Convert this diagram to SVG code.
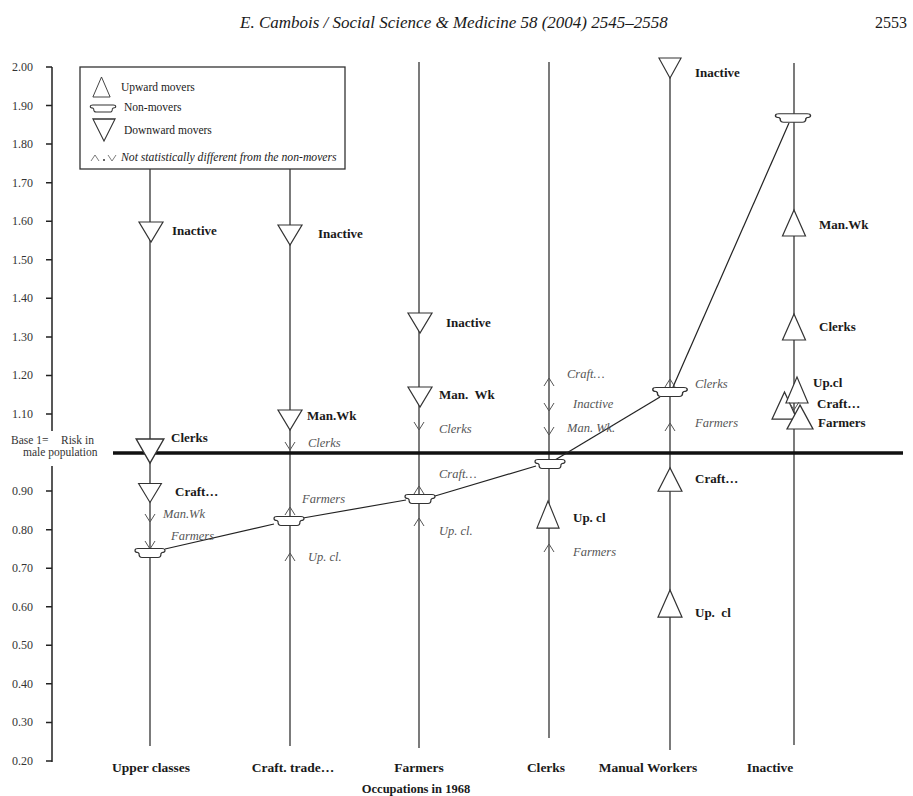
<svg xmlns="http://www.w3.org/2000/svg" width="913" height="796" viewBox="0 0 913 796">
<style>
text{font-family:"Liberation Serif","Times New Roman",serif;fill:#1a1a1a}
.hdr{font-style:italic;font-size:17px}
.pg{font-size:16px}
.tick{font-size:12px;fill:#333;text-anchor:end}
.base{font-size:11.5px;fill:#333}
.b{font-weight:bold;font-size:13px}
.i{font-style:italic;font-size:12.5px;fill:#555}
.leg{font-size:11.5px}
.legi{font-style:italic;font-size:11.7px}
.xl{font-weight:bold;font-size:13.5px;text-anchor:middle}
.occ{font-weight:bold;font-size:12.5px;text-anchor:middle}
.col{stroke:#333;stroke-width:1.3;fill:none}
.ax{stroke:#222;stroke-width:1.5;fill:none}
.baseline{stroke:#111;stroke-width:3.5}
.shape{fill:#fff;stroke:#333;stroke-width:1.2}
.sa{fill:none;stroke:#555;stroke-width:1}
.conn{fill:none;stroke:#222;stroke-width:1.2}
.box{fill:#fff;stroke:#333;stroke-width:1.3}
</style>
<defs>
<path id="up" d="M0,-13 L11.5,13 L-11.5,13 Z"/>
<path id="dn" d="M-12,-10 L12,-10 L0,10 Z"/>
<path id="nm" d="M-15,-2.5 Q-15,-4.5 -12,-4.5 H12 Q15,-4.5 15,-2.5 Q15,-0.5 12,-0.5 L11,0.5 Q11,4.5 8,4.5 H-8 Q-11,4.5 -11,0.5 L-12,-0.5 Q-15,-0.5 -15,-2.5 Z"/>
<path id="su" d="M-5,4 L0,-4 L5,4"/>
<path id="sd" d="M-5,-4 L0,4 L5,-4"/>
</defs>

<rect width="913" height="796" fill="#fff"/>

<g id="header">
<text class="hdr" x="240" y="28">E. Cambois / Social Science &amp; Medicine 58 (2004) 2545–2558</text>
<text class="pg" x="907" y="28" text-anchor="end">2553</text>
</g>

<g id="y-axis">
<path class="ax" d="M52,67 V431 M52,466 V762"/>
<path class="ax" d="M46,67 H52 M46,105.5 H52 M46,144 H52 M46,182.7 H52 M46,221.2 H52 M46,259.8 H52 M46,298.3 H52 M46,336.9 H52 M46,375.4 H52 M46,414 H52 M46,491.1 H52 M46,529.7 H52 M46,568.2 H52 M46,606.8 H52 M46,645.3 H52 M46,683.8 H52 M46,722.4 H52 M46,761 H52"/>
<text class="tick" x="33" y="71">2.00</text>
<text class="tick" x="33" y="109.5">1.90</text>
<text class="tick" x="33" y="148">1.80</text>
<text class="tick" x="33" y="186.7">1.70</text>
<text class="tick" x="33" y="225.2">1.60</text>
<text class="tick" x="33" y="263.8">1.50</text>
<text class="tick" x="33" y="302.3">1.40</text>
<text class="tick" x="33" y="340.9">1.30</text>
<text class="tick" x="33" y="379.4">1.20</text>
<text class="tick" x="33" y="418">1.10</text>
<text class="tick" x="33" y="495.1">0.90</text>
<text class="tick" x="33" y="533.7">0.80</text>
<text class="tick" x="33" y="572.2">0.70</text>
<text class="tick" x="33" y="610.8">0.60</text>
<text class="tick" x="33" y="649.3">0.50</text>
<text class="tick" x="33" y="687.8">0.40</text>
<text class="tick" x="33" y="726.4">0.30</text>
<text class="tick" x="33" y="765">0.20</text>
<text class="base" x="11" y="444">Base 1=</text>
<text class="base" x="61" y="444">Risk in</text>
<text class="base" x="23" y="456">male population</text>
</g>

<g id="columns">
<path class="col" d="M150,169 V746"/>
<path class="col" d="M290,169 V746"/>
<path class="col" d="M419,62 V748"/>
<path class="col" d="M549,62 V738"/>
<path class="col" d="M670,62 V750"/>
<path class="col" d="M794,63 V745"/>
</g>

<line id="base-line" class="baseline" x1="113" y1="453" x2="903" y2="453"/>

<g id="connectors">
<path class="conn" d="M165,549 L274,524"/>
<path class="conn" d="M303,518 L406,500"/>
<path class="conn" d="M435,496 L536,466"/>
<path class="conn" d="M555,460 L660,397"/>
<path class="conn" d="M673,387 L789,123"/>
</g>

<g id="legend">
<rect class="box" x="80" y="67" width="265" height="102"/>
<use href="#up" class="shape" transform="translate(101.5,87) scale(0.75,0.77)"/>
<text class="leg" x="121" y="91">Upward movers</text>
<use href="#nm" class="shape" transform="translate(103,108.5) scale(0.85,0.8)"/>
<text class="leg" x="124" y="111">Non-movers</text>
<use href="#dn" class="shape" transform="translate(104,130) scale(0.92,1.1)"/>
<text class="leg" x="124" y="134">Downward movers</text>
<use href="#su" class="sa" transform="translate(95,158) scale(0.8,0.75)"/>
<circle cx="104" cy="160" r="1" fill="#333"/>
<use href="#sd" class="sa" transform="translate(112,158) scale(0.8,0.75)"/>
<text class="legi" x="121" y="161">Not statistically different from the non-movers</text>
</g>

<g id="upper-classes">
<g id="uc-inactive"><use href="#dn" class="shape" x="151" y="232"/><text class="b" x="172" y="235">Inactive</text></g>
<g id="uc-clerks"><use href="#dn" class="shape" transform="translate(150,451) scale(1.15,1.2)"/><text class="b" x="171" y="442">Clerks</text></g>
<g id="uc-craft"><use href="#dn" class="shape" transform="translate(150,493) scale(0.95)"/><text class="b" x="175" y="496">Craft…</text></g>
<g id="uc-manwk"><use href="#sd" class="sa" x="150" y="518"/><text class="i" x="163" y="518">Man.Wk</text></g>
<g id="uc-farmers"><use href="#sd" class="sa" x="150" y="545"/><text class="i" x="171" y="540">Farmers</text></g>
<g id="uc-nonmover"><use href="#nm" class="shape" x="150" y="553"/></g>
</g>

<g id="craft-trade">
<g id="ct-inactive"><use href="#dn" class="shape" x="290" y="235"/><text class="b" x="318" y="238">Inactive</text></g>
<g id="ct-manwk"><use href="#dn" class="shape" x="290" y="420"/><text class="b" x="307" y="420">Man.Wk</text></g>
<g id="ct-clerks"><use href="#sd" class="sa" x="290" y="446"/><text class="i" x="308" y="447">Clerks</text></g>
<g id="ct-farmers"><use href="#su" class="sa" x="290" y="511"/><text class="i" x="302" y="503">Farmers</text></g>
<g id="ct-nonmover"><use href="#nm" class="shape" x="289" y="521"/></g>
<g id="ct-upcl"><use href="#su" class="sa" x="290" y="557"/><text class="i" x="308" y="561">Up. cl.</text></g>
</g>

<g id="farmers">
<g id="fa-inactive"><use href="#dn" class="shape" x="420" y="323"/><text class="b" x="446" y="327">Inactive</text></g>
<g id="fa-manwk"><use href="#dn" class="shape" x="420" y="397"/><text class="b" x="439" y="399" xml:space="preserve">Man.  Wk</text></g>
<g id="fa-clerks"><use href="#sd" class="sa" x="419" y="426"/><text class="i" x="439" y="433">Clerks</text></g>
<g id="fa-craft"><use href="#su" class="sa" x="419" y="490"/><text class="i" x="439" y="478">Craft…</text></g>
<g id="fa-nonmover"><use href="#nm" class="shape" x="420" y="499"/></g>
<g id="fa-upcl"><use href="#su" class="sa" x="419" y="522"/><text class="i" x="439" y="535">Up. cl.</text></g>
</g>

<g id="clerks">
<g id="cl-craft"><use href="#su" class="sa" x="549" y="382"/><text class="i" x="567" y="378">Craft…</text></g>
<g id="cl-inactive"><use href="#sd" class="sa" x="549" y="407"/><text class="i" x="573" y="408">Inactive</text></g>
<g id="cl-manwk"><use href="#sd" class="sa" x="549" y="431"/><text class="i" x="567" y="432">Man. Wk.</text></g>
<g id="cl-nonmover"><use href="#nm" class="shape" x="550" y="464"/></g>
<g id="cl-upcl"><use href="#up" class="shape" transform="translate(548,514.5) scale(0.96,1.04)"/><text class="b" x="573" y="522">Up. cl</text></g>
<g id="cl-farmers"><use href="#su" class="sa" x="549" y="548"/><text class="i" x="573" y="556">Farmers</text></g>
</g>

<g id="manual-workers">
<g id="mw-inactive"><use href="#dn" class="shape" transform="translate(670,68) scale(0.92,1)"/><text class="b" x="695" y="77">Inactive</text></g>
<g id="mw-clerks"><use href="#su" class="sa" x="670" y="383"/><use href="#nm" class="shape" transform="translate(670,392) scale(1.15,1)"/><text class="i" x="695" y="388">Clerks</text></g>
<g id="mw-farmers"><use href="#su" class="sa" x="670" y="427"/><text class="i" x="695" y="427">Farmers</text></g>
<g id="mw-craft"><use href="#up" class="shape" transform="translate(670,479.5) scale(1.04,0.9)"/><text class="b" x="695" y="483">Craft…</text></g>
<g id="mw-upcl"><use href="#up" class="shape" transform="translate(670,603.5) scale(1.04,1.04)"/><text class="b" x="695" y="617" xml:space="preserve">Up.  cl</text></g>
</g>

<g id="inactive">
<g id="in-nonmover"><use href="#nm" class="shape" transform="translate(793,118) scale(1.17,0.95)"/></g>
<g id="in-manwk"><use href="#up" class="shape" x="794" y="223"/><text class="b" x="819" y="229">Man.Wk</text></g>
<g id="in-clerks"><use href="#up" class="shape" x="794" y="327"/><text class="b" x="819" y="331">Clerks</text></g>
<g id="in-craft"><use href="#up" class="shape" transform="translate(784.5,405.5) scale(1.08,1.04)"/><text class="b" x="817" y="408">Craft…</text></g>
<g id="in-upcl"><use href="#up" class="shape" transform="translate(797,390) scale(0.96,1)"/><text class="b" x="813" y="387">Up.cl</text></g>
<g id="in-farmers"><use href="#up" class="shape" transform="translate(800,417) scale(1.13,0.92)"/><use href="#sd" class="sa" x="794" y="406"/><text class="b" x="818" y="427">Farmers</text></g>
</g>

<g id="x-labels">
<text class="xl" x="151" y="772">Upper classes</text>
<text class="xl" x="293" y="772">Craft. trade…</text>
<text class="xl" x="419" y="772">Farmers</text>
<text class="xl" x="546" y="772">Clerks</text>
<text class="xl" x="648" y="772">Manual Workers</text>
<text class="xl" x="770" y="772">Inactive</text>
<text class="occ" x="416" y="793">Occupations in 1968</text>
</g>
</svg>
